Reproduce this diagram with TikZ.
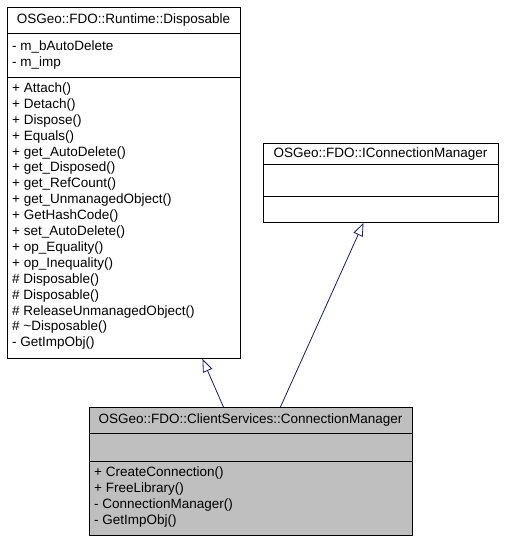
\documentclass[tikz,border=0pt]{standalone}
\usepackage{fontspec}
\setmainfont{Liberation Sans}
\usetikzlibrary{arrows.meta}
\definecolor{edgeblue}{RGB}{25,25,112}
\definecolor{boxgray}{RGB}{191,191,191}
\tikzset{
  classbox/.style={draw=black, line width=0.9pt, inner sep=0pt, anchor=north west},
  sepline/.style={draw=black, line width=0.9pt},
  txt/.style={anchor=west, inner sep=0pt, font=\fontsize{13.5}{16}\selectfont},
  ttl/.style={anchor=center, inner sep=0pt, font=\fontsize{13.5}{16}\selectfont},
  inherit/.style={draw=edgeblue, line width=0.8pt, -{Triangle[open, length=13pt, width=10pt, line width=0.8pt]}},
}
\begin{document}
\begin{tikzpicture}[x=1pt, y=-1pt]
\useasboundingbox (0,0) rectangle (504,541);
% Box 1: Disposable
\node[classbox, minimum width=233pt, minimum height=351pt] (disp) at (7,7) {};
\draw[sepline] (7,33) -- (240,33);
\draw[sepline] (7,77) -- (240,77);
\node[ttl] (dispt) at (123.5,20) {OSGeo::FDO::Runtime::Disposable};
\node[txt] (da1) at (12,47) {- m\_bAutoDelete};
\node[txt] (da2) at (12,63) {- m\_imp};
\foreach \t [count=\i from 0] in {+ Attach(), + Detach(), + Dispose(), + Equals(), + get\_AutoDelete(), + get\_Disposed(), + get\_RefCount(), + get\_UnmanagedObject(), + GetHashCode(), + set\_AutoDelete(), + op\_Equality(), + op\_Inequality(), \# Disposable(), \# Disposable(), \# ReleaseUnmanagedObject(), \# \textasciitilde Disposable(), - GetImpObj()}
  \node[txt] (dm\i) at (12,89+15.9*\i) {\t};
% Box 2: IConnectionManager
\node[classbox, minimum width=235pt, minimum height=79pt] (icm) at (263,143) {};
\draw[sepline] (263,164) -- (498,164);
\draw[sepline] (263,196) -- (498,196);
\node[ttl] (icmt) at (380.5,154) {OSGeo::FDO::IConnectionManager};
% Box 3: ConnectionManager
\node[classbox, fill=boxgray, minimum width=323pt, minimum height=128pt] (cm) at (89,407) {};
\draw[sepline] (89,433) -- (412,433);
\draw[sepline] (89,461) -- (412,461);
\node[ttl] (cmt) at (250.5,420) {OSGeo::FDO::ClientServices::ConnectionManager};
\foreach \t [count=\i from 0] in {+ CreateConnection(), + FreeLibrary(), - ConnectionManager(), - GetImpObj()}
  \node[txt] (cmm\i) at (94,473+16*\i) {\t};
% Inheritance connectors
\coordinate (s1) at ([xshift=-27.5pt]cm.north);
\coordinate (e1) at ([xshift=78.5pt]disp.south);
\coordinate (s2) at ([xshift=29.5pt]cm.north);
\coordinate (e2) at ([xshift=-17.5pt]icm.south);
\draw[inherit] (s1) -- (e1);
\draw[inherit] (s2) -- (e2);
\end{tikzpicture}
\end{document}
